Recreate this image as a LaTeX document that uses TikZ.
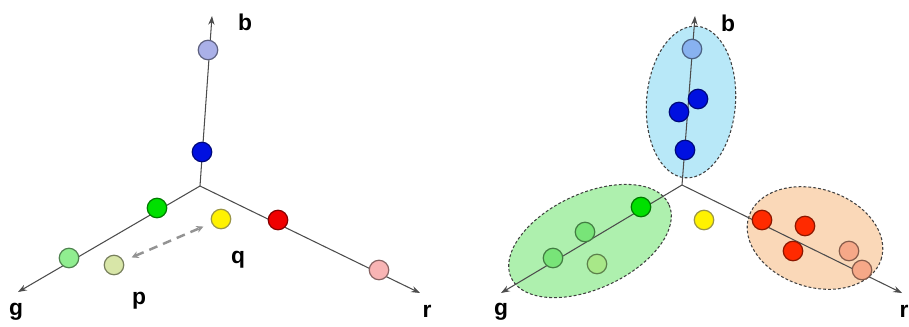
\documentclass[tikz,border=0pt]{standalone}
\usepackage{fontspec}
\setmainfont{Liberation Sans}
\usetikzlibrary{shapes.geometric,arrows.meta}
\definecolor{lavblue}{HTML}{AAB0E8}
\definecolor{deepblue}{HTML}{0010E0}
\definecolor{brightgreen}{HTML}{00E000}
\definecolor{softgreen}{HTML}{90EE90}
\definecolor{palegreen}{HTML}{D8E6A8}
\definecolor{lightgreen}{HTML}{78E478}
\definecolor{olivegreen}{HTML}{A8E888}
\definecolor{brightred}{HTML}{F00000}
\definecolor{orangered}{HTML}{FF2A00}
\definecolor{pinkred}{HTML}{F8B4B4}
\definecolor{salmon}{HTML}{F6A888}
\definecolor{skyblue}{HTML}{88B2F0}
\definecolor{bluefill}{HTML}{B8E8F8}
\definecolor{greenfill}{HTML}{AEF0AE}
\definecolor{orangefill}{HTML}{FAD8B8}
\begin{document}
\begin{tikzpicture}[x=0.02cm, y=-0.02cm,
    axis/.style={draw=black!70, line width=0.6pt, -{Stealth[length=5pt,width=3.6pt]}},
    dot/.style={circle, draw=#1!55!black, fill=#1, line width=0.7pt, minimum size=0.39cm, inner sep=0pt},
    lbl/.style={font=\fontsize{13}{15}\selectfont\bfseries},
    cluster/.style={ellipse, draw=black!75, dash pattern=on 1.6pt off 1.2pt, line width=0.6pt, fill=#1, inner sep=0pt}]
    \useasboundingbox (0,0) rectangle (909,326);

    % left panel
    \coordinate (lo) at (200,186);
    \coordinate (lbtip) at (212,16);
    \coordinate (lgtip) at (18,292);
    \coordinate (lrtip) at (420,293);
    \draw[axis] (lo) -- (lbtip);
    \draw[axis] (lo) -- (lgtip);
    \draw[axis] (lo) -- (lrtip);
    \foreach \n/\x/\y/\c in {lb1/208/50/lavblue, lb2/202/152/deepblue,
                             lg1/157/208/brightgreen, lg2/69/258/softgreen,
                             lr1/278/220/brightred, lr2/379/270/pinkred,
                             lp/114/265/palegreen, lq/221/219/yellow} {
        \node[dot=\c] (\n) at (\x,\y) {};
    }
    \draw[<->, >={Stealth[length=4pt,width=4pt]}, gray!85, line width=1.4pt, dash pattern=on 5pt off 3.5pt,
          shorten <=5pt, shorten >=5pt] (lp) -- (lq);
    \node[lbl] (lblb) at (245,22) {b};
    \node[lbl] (lblg) at (16,312) {g};
    \node[lbl] (lblp) at (139,301) {p};
    \node[lbl] (lblq) at (238,260) {q};
    \node[lbl] (lblr) at (427,311) {r};

    % right panel
    \node[cluster=bluefill, minimum width=3.04cm, minimum height=1.78cm, rotate=85.6] (bclust) at (691,102) {};
    \node[cluster=greenfill, minimum width=3.48cm, minimum height=1.9cm, rotate=25] (gclust) at (590,241) {};
    \node[cluster=orangefill, minimum width=2.78cm, minimum height=1.96cm, rotate=-18] (rclust) at (815,238) {};
    \coordinate (ro) at (682,185);
    \coordinate (rbtip) at (695,16);
    \coordinate (rgtip) at (501,293);
    \coordinate (rrtip) at (902,293);
    \draw[axis] (ro) -- (rbtip);
    \draw[axis] (ro) -- (rgtip);
    \draw[axis] (ro) -- (rrtip);
    \foreach \n/\x/\y/\c in {rb1/692/49/skyblue, rb2/698/99/deepblue, rb3/679/112/deepblue, rb4/685/150/deepblue,
                             rg1/641/207/brightgreen, rg2/585/232/lightgreen, rg3/553/258/lightgreen, rg4/597/264/olivegreen,
                             rr1/762/220/orangered, rr2/805/226/orangered, rr3/793/251/orangered,
                             rr4/849/251/salmon, rr5/862/270/salmon, rq/704/220/yellow} {
        \node[dot=\c] (\n) at (\x,\y) {};
    }
    \node[lbl] (lbrb) at (728,23) {b};
    \node[lbl] (lbrg) at (501,312) {g};
    \node[lbl] (lbrr) at (904,311) {r};
\end{tikzpicture}
\end{document}
